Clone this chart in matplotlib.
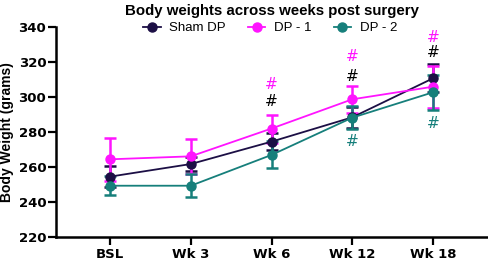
import matplotlib
matplotlib.use("Agg")
import matplotlib.pyplot as plt
from matplotlib.lines import Line2D

# datos
semanas = ["BSL", "Wk 3", "Wk 6", "Wk 12", "Wk 18"]
sham = [254.5, 261.7, 274.5, 288.4, 310.7]
sham_err = [6, 4, 5, 6, 8]
dp1 = [264.4, 266.1, 282.0, 298.7, 305.9]
dp1_err = [12.3, 10, 8, 7.6, 12]
dp2 = [249.3, 249.3, 266.9, 288.2, 302.7]
dp2_err = [5.5, 6.5, 7.7, 6.5, 10]

# marcas de significancia (indice de semana, altura)
hash_sham = [(2, 297.7), (3, 312.0), (4, 325.7)]
hash_dp1 = [(2, 306.9), (3, 322.9), (4, 334.3)]
hash_dp2 = [(3, 274.5), (4, 285.1)]

c_sham = "#1c0f45"
c_dp1 = "#ff14ff"
c_dp2 = "#167f7b"

fig = plt.figure(figsize=(4.89, 2.63), dpi=100)
ax = fig.add_axes([0.1145, 0.099, 0.8815, 0.798])

x = range(len(semanas))
handles = []
for vals, err, col, lab in [(sham, sham_err, c_sham, "Sham DP"),
                            (dp1, dp1_err, c_dp1, "DP - 1"),
                            (dp2, dp2_err, c_dp2, "DP - 2")]:
    ax.errorbar(x, vals, yerr=err, color=col, marker="o", markersize=6.5,
                linewidth=1.3, elinewidth=1.8, capsize=4, capthick=1.8)
    handles.append(Line2D([], [], color=col, marker="o", markersize=6.5,
                          linewidth=1.3, label=lab))

for lista, col in [(hash_sham, "black"), (hash_dp1, c_dp1), (hash_dp2, c_dp2)]:
    for i, h in lista:
        ax.text(i, h, "#", color=col, ha="center", va="center", fontsize=11)

ax.set_xlim(-0.67, 4.67)
ax.set_ylim(220, 340)
ax.set_yticks(range(220, 341, 20))
ax.set_xticks(list(x))
ax.set_xticklabels(semanas)
for lbl in ax.get_xticklabels() + ax.get_yticklabels():
    lbl.set_fontweight("bold")
    lbl.set_fontsize(9.5)
ax.tick_params(width=1.6, length=6)
ax.tick_params(axis="x", pad=2)
ax.tick_params(axis="y", pad=1)
for s in ["top", "right"]:
    ax.spines[s].set_visible(False)
for s in ["left", "bottom"]:
    ax.spines[s].set_linewidth(1.8)

ax.set_ylabel("Body Weight (grams)", fontsize=10, fontweight="bold",
              family="Liberation Sans", labelpad=3)
ax.set_title("Body weights across weeks post surgery", fontsize=10.8,
             fontweight="bold", family="Liberation Sans", pad=9)

ax.legend(handles=handles, loc="center", bbox_to_anchor=(0.497, 0.995), ncol=3,
          frameon=False, prop={"family": "Liberation Sans", "size": 9.5},
          handlelength=1.3, columnspacing=1.7, handletextpad=0.65)

fig.savefig("out.png", dpi=100)
